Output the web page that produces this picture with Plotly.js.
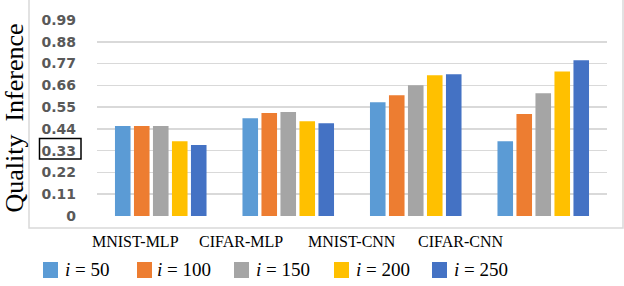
<!DOCTYPE html>
<html>
<head>
<meta charset="utf-8">
<script src="https://cdn.plot.ly/plotly-3.0.1.min.js"></script>
<style>html,body{margin:0;padding:0;background:#fff;}#chart{width:624px;height:286px;}</style>
</head>
<body>
<div id="chart"></div>
<script>
// ---- data ----
const categories = ['MNIST-MLP', 'CIFAR-MLP', 'MNIST-CNN', 'CIFAR-CNN'];
const seriesNames = ['<i>i</i> = 50', '<i>i</i> = 100', '<i>i</i> = 150', '<i>i</i> = 200', '<i>i</i> = 250'];
const i50  = [0.454, 0.494, 0.575, 0.378];
const i100 = [0.454, 0.520, 0.610, 0.515];
const i150 = [0.454, 0.525, 0.661, 0.620];
const i200 = [0.378, 0.479, 0.711, 0.730];
const i250 = [0.358, 0.469, 0.716, 0.787];
const yTickVals = [0, 0.11, 0.22, 0.33, 0.44, 0.55, 0.66, 0.77, 0.88, 0.99];
const yTickText = ['0', '0.11', '0.22', '0.33', '0.44', '0.55', '0.66', '0.77', '0.88', '0.99'];
const seriesValues = [i50, i100, i150, i200, i250];
const colors = ['#5B9BD5', '#ED7D31', '#A5A5A5', '#FFC000', '#4472C4'];

// ---- layout helpers (pixel geometry) ----
const W = 624, H = 286;
const L = 97, R = 17, T = 20, B = 70;
const pw = W - L - R, ph = H - T - B;
const px = x => (x - L) / pw;
const py = y => (H - B - y) / ph;

const traces = seriesValues.map((vals, k) => ({
  type: 'bar',
  x: categories,
  y: vals,
  name: seriesNames[k],
  marker: {color: colors[k]},
  showlegend: false,
  hoverinfo: 'skip'
}));

// category labels (drawn as text below the plot)
const labelX = [135, 241, 352, 460];
const annotations = categories.map((c, k) => ({
  text: c, xref: 'paper', yref: 'paper', x: px(labelX[k]), y: py(241),
  xanchor: 'center', yanchor: 'middle', showarrow: false,
  font: {family: 'Liberation Serif', size: 16, color: '#000'}
}));

// legend drawn as swatches + text
const legSwatchX = [43, 137, 234, 334, 432];
const legTextX = [63, 155, 254, 354, 452];
const shapes = [
  {type: 'rect', xref: 'paper', yref: 'paper', x0: px(29), x1: px(623), y0: py(228), y1: py(-2),
   line: {color: '#d9d9d9', width: 1.5}, fillcolor: 'rgba(0,0,0,0)', layer: 'below'},
  {type: 'rect', xref: 'paper', yref: 'paper', x0: px(39.5), x1: px(81), y0: py(159), y1: py(138.5),
   line: {color: '#000', width: 1.5}, fillcolor: 'rgba(0,0,0,0)'}
];
seriesNames.forEach((n, k) => {
  shapes.push({type: 'rect', xref: 'paper', yref: 'paper',
    x0: px(legSwatchX[k]), x1: px(legSwatchX[k] + 15), y0: py(278), y1: py(262),
    line: {width: 0}, fillcolor: colors[k]});
  annotations.push({text: n, xref: 'paper', yref: 'paper', x: px(legTextX[k]), y: py(269),
    xanchor: 'left', yanchor: 'middle', showarrow: false,
    font: {family: 'Liberation Serif', size: 19, color: '#000'}});
});

const layout = {
  width: W, height: H,
  margin: {l: L, r: R, t: T, b: B, pad: 0},
  paper_bgcolor: '#fff', plot_bgcolor: '#fff',
  barmode: 'group', bargap: 0.255, bargroupgap: 0.18,
  showlegend: false,
  xaxis: {
    type: 'category', showticklabels: false, showgrid: false, zeroline: false,
    showline: false, ticks: ''
  },
  yaxis: {
    range: [0, 0.99], tickvals: yTickVals, ticktext: yTickText,
    showgrid: true, gridcolor: '#d9d9d9', gridwidth: 1.5,
    zeroline: false, showline: false, ticks: '',
    ticklabelstandoff: 20,
    tickfont: {family: 'DejaVu Sans', size: 14, color: '#595959', weight: 'bold'},
    title: {text: 'Quality&nbsp; Inference', standoff: 12,
            font: {family: 'Liberation Serif', size: 26, color: '#000'}}
  },
  annotations: annotations,
  shapes: shapes
};

Plotly.newPlot('chart', traces, layout, {staticPlot: true, displayModeBar: false});
</script>
</body>
</html>
